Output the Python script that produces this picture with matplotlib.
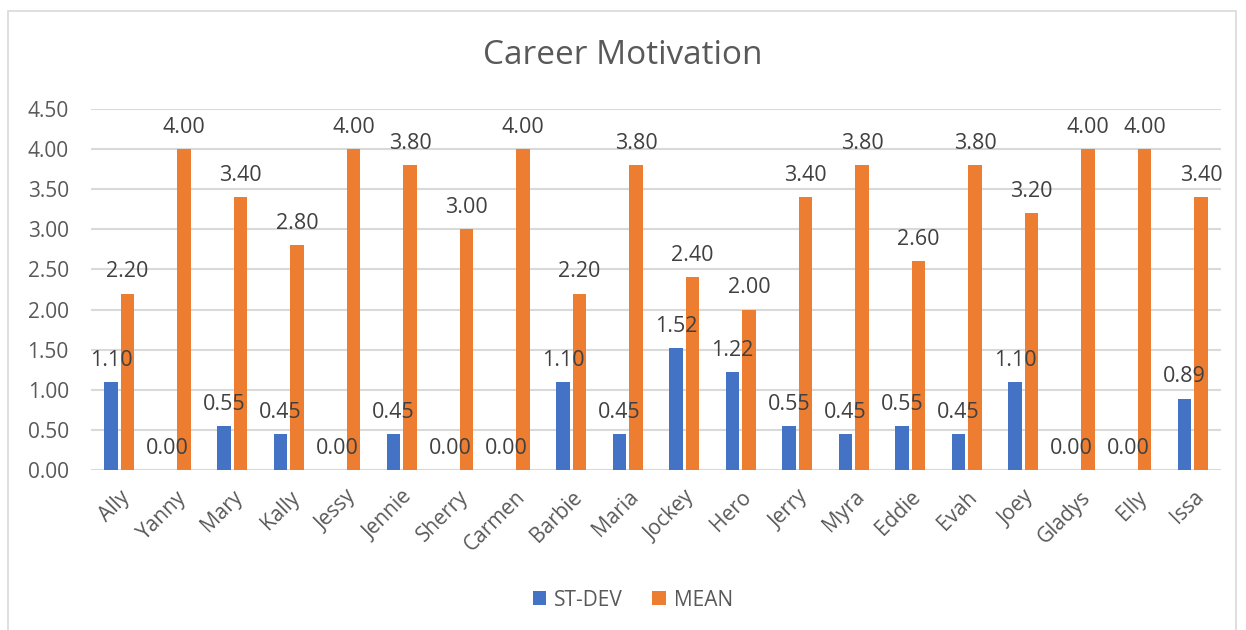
import matplotlib.pyplot as plt
import numpy as np

names = ["Ally", "Yanny", "Mary", "Kally", "Jessy", "Jennie", "Sherry", "Carmen",
         "Barbie", "Maria", "Jockey", "Hero", "Jerry", "Myra", "Eddie", "Evah",
         "Joey", "Gladys", "Elly", "Issa"]
st_dev = [1.10, 0.00, 0.55, 0.45, 0.00, 0.45, 0.00, 0.00, 1.10, 0.45,
          1.52, 1.22, 0.55, 0.45, 0.55, 0.45, 1.10, 0.00, 0.00, 0.89]
mean = [2.20, 4.00, 3.40, 2.80, 4.00, 3.80, 3.00, 4.00, 2.20, 3.80,
        2.40, 2.00, 3.40, 3.80, 2.60, 3.80, 3.20, 4.00, 4.00, 3.40]
y_ticks = [0.0, 0.5, 1.0, 1.5, 2.0, 2.5, 3.0, 3.5, 4.0, 4.5]

BLUE = "#4472C4"
ORANGE = "#ED7D31"
TEXT = "#595959"
GRID = "#D9D9D9"

plt.rcParams['font.family'] = ['Open Sans', 'DejaVu Sans']

fig = plt.figure(figsize=(12.46, 6.3), dpi=100)

# chart border like an Excel chart area
border = plt.Rectangle((8 / 1246, -0.01), 1228 / 1246, 1 - 11 / 630 + 0.01,
                       transform=fig.transFigure, fill=False, edgecolor=GRID, lw=1.2)
fig.patches.append(border)

ax = fig.add_axes([91 / 1246, 1 - 470 / 630, 1130 / 1246, 361 / 630])

x = np.arange(len(names))
w = 0.235
off = 0.145
b1 = ax.bar(x - off, st_dev, w, color=BLUE, label="ST-DEV", zorder=3)
b2 = ax.bar(x + off, mean, w, color=ORANGE, label="MEAN", zorder=3)

for bars, vals in ((b1, st_dev), (b2, mean)):
    for rect, v in zip(bars, vals):
        ax.annotate(f"{v:.2f}", (rect.get_x() + rect.get_width() / 2, v),
                    xytext=(0, 8), textcoords="offset points",
                    ha="center", va="bottom", fontsize=15.5, color="#404040",
                    zorder=4)

ax.set_xlim(-0.5, len(names) - 0.5)
ax.set_ylim(0, 4.5)
ax.set_yticks(y_ticks)
ax.set_yticklabels([f"{t:.2f}" for t in y_ticks])
ax.set_xticks(x)
ax.set_xticklabels(names, rotation=45, ha="right", rotation_mode="anchor")
ax.tick_params(axis="both", length=0, labelsize=15, labelcolor=TEXT)
ax.tick_params(axis="y", pad=16)
ax.tick_params(axis="x", pad=12)
ax.yaxis.grid(True, color=GRID, lw=1.5, zorder=0)
for s in ax.spines.values():
    s.set_visible(False)

fig.text(0.5, 1 - 55 / 630, "Career Motivation", ha="center", va="center",
         fontsize=24, color=TEXT)

fig.legend(loc="center", bbox_to_anchor=(633 / 1246, 1 - 600 / 630), ncol=2,
           frameon=False, fontsize=15, labelcolor=TEXT, handlelength=0.65,
           handleheight=0.65, handletextpad=0.4, columnspacing=1.4)

fig.savefig("out.png", dpi=100)
